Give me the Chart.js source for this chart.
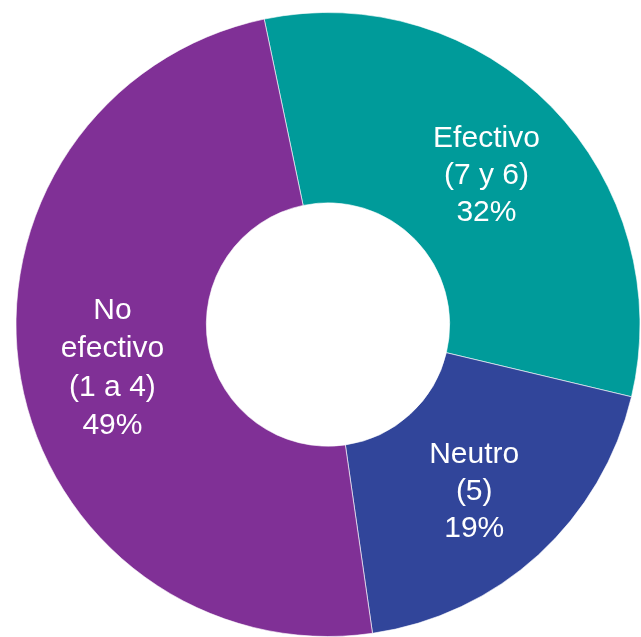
<!DOCTYPE html>
<html>
<head>
<meta charset="utf-8">
<script src="https://cdn.jsdelivr.net/npm/chart.js@4/dist/chart.umd.min.js"></script>
<style>
  html, body { margin: 0; padding: 0; background: #fff; }
  #wrap { width: 641px; height: 637px; position: relative; }
</style>
</head>
<body>
<div id="wrap"><canvas id="donut"></canvas></div>
<script>
// Datos del gráfico
const categorias = ['Efectivo', 'Neutro', 'No efectivo'];
const rangos = ['(7 y 6)', '(5)', '(1 a 4)'];
const porcentajes = [32, 19, 49];
const colores = ['#009b9a', '#31459a', '#803096'];

// Etiquetas dentro de cada sector
const etiquetas = {
    id: 'etiquetas',
    afterDatasetsDraw(chart) {
        const ctx = chart.ctx;
        const meta = chart.getDatasetMeta(0);
        const ajuste = [[3, 2], [0, 7], [-2, 6]]; // pequeño desplazamiento a mano
        ctx.save();
        ctx.fillStyle = '#ffffff';
        ctx.font = '30px "Liberation Sans", Arial, sans-serif';
        ctx.textAlign = 'center';
        ctx.textBaseline = 'middle';
        meta.data.forEach((arc, i) => {
            const p = arc.tooltipPosition();
            let lineas = [categorias[i], rangos[i], porcentajes[i] + '%'];
            if (i === 2) lineas = ['No', 'efectivo', rangos[i], porcentajes[i] + '%'];
            const lh = i === 2 ? 38.5 : 37;
            const x = p.x + ajuste[i][0];
            const y0 = p.y + ajuste[i][1] - (lineas.length - 1) * lh / 2;
            lineas.forEach((t, k) => ctx.fillText(t, x, y0 + k * lh));
        });
        ctx.restore();
    }
};

new Chart(document.getElementById('donut'), {
    type: 'doughnut',
    data: {
        labels: categorias,
        datasets: [{
            data: porcentajes,
            backgroundColor: colores,
            borderColor: 'rgba(255,255,255,0.6)',
            borderWidth: 1
        }]
    },
    options: {
        responsive: true,
        maintainAspectRatio: false,
        animation: false,
        rotation: -11.8,
        cutout: '39%',
        layout: { padding: { left: 15, right: 0, top: 12, bottom: 0 } },
        plugins: {
            legend: { display: false },
            tooltip: { enabled: false }
        }
    },
    plugins: [etiquetas]
});
</script>
</body>
</html>
